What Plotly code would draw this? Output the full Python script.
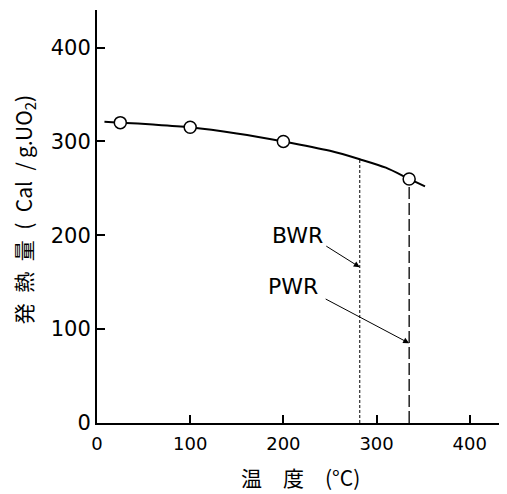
import plotly.graph_objects as go

# measured points (temperature °C, heat release Cal/g.UO2)
pt_temp = [25, 100, 200, 335]
pt_heat = [320, 315, 300, 260]

# smooth curve
curve_temp = [8, 25, 60, 100, 150, 200, 250, 282, 310, 335, 352]
curve_heat = [321, 320, 318, 315, 308.5, 300, 290, 281, 272, 260, 252]

bwr_temp = 282
bwr_top = 281
pwr_temp = 335
pwr_top = 253

xticks = [0, 100, 200, 300, 400]
yticks = [0, 100, 200, 300, 400]

TICKFONT = "DejaVu Sans"
CJK = "Noto Sans CJK JP"

fig = go.Figure()
fig.add_trace(go.Scatter(x=curve_temp, y=curve_heat, mode="lines",
                         line=dict(color="black", width=2, shape="spline", smoothing=0.8),
                         hoverinfo="skip", showlegend=False))
fig.add_trace(go.Scatter(x=[bwr_temp, bwr_temp], y=[0, bwr_top], mode="lines",
                         line=dict(color="black", width=1, dash="3px,2px"), showlegend=False))
fig.add_trace(go.Scatter(x=[pwr_temp, pwr_temp], y=[0, pwr_top], mode="lines",
                         line=dict(color="black", width=1.3, dash="12px,4px"), showlegend=False))
fig.add_trace(go.Scatter(x=pt_temp, y=pt_heat, mode="markers",
                         marker=dict(size=12, color="white", line=dict(color="black", width=1.5)),
                         showlegend=False))

# labels
fig.add_annotation(x=215, y=200, text="BWR", showarrow=False,
                   font=dict(family=TICKFONT, size=22, color="black"))
fig.add_annotation(x=210, y=145, text="PWR", showarrow=False,
                   font=dict(family=TICKFONT, size=22, color="black"))
# arrows
fig.add_annotation(x=bwr_temp, y=166, ax=-35, ay=-22, text="", showarrow=True,
                   arrowhead=2, arrowsize=1.2, arrowwidth=1, arrowcolor="black")
fig.add_annotation(x=pwr_temp, y=85, ax=-85, ay=-45, text="", showarrow=True,
                   arrowhead=2, arrowsize=1.2, arrowwidth=1, arrowcolor="black")

# axis titles
fig.add_annotation(xref="paper", yref="paper", x=0.496, y=-0.131,
                   xanchor="center", yanchor="middle",
                   text="温\u3000度\u3000(°C)", showarrow=False,
                   font=dict(family=CJK, size=21, color="black"))
fig.add_annotation(xref="paper", yref="paper", x=-0.178, y=0.515, textangle=-90,
                   xanchor="center", yanchor="middle",
                   text="発\u2002熱\u2002量\u2002(\u2002Cal\u2002/\u2009g.UO<sub>2</sub>)",
                   showarrow=False,
                   font=dict(family=CJK, size=21, color="black"))

fig.update_layout(
    width=499, height=486,
    margin=dict(l=89, r=0, t=2, b=71),
    paper_bgcolor="white", plot_bgcolor="white",
    xaxis=dict(range=[0, 440], tickvals=xticks, ticktext=[str(v) for v in xticks],
               ticks="inside", ticklen=8, tickwidth=1.5, tickcolor="black",
               showline=True, linewidth=2, linecolor="black",
               showgrid=False, zeroline=False, ticklabelstandoff=3,
               tickfont=dict(family=TICKFONT, size=18, color="black")),
    yaxis=dict(range=[0, 440], tickvals=yticks, ticktext=[str(v) for v in yticks],
               ticks="inside", ticklen=8, tickwidth=1.5, tickcolor="black",
               showline=True, linewidth=2, linecolor="black",
               showgrid=False, zeroline=False, ticklabelstandoff=0,
               tickfont=dict(family=TICKFONT, size=21, color="black")),
)

fig.write_html("out.html")
